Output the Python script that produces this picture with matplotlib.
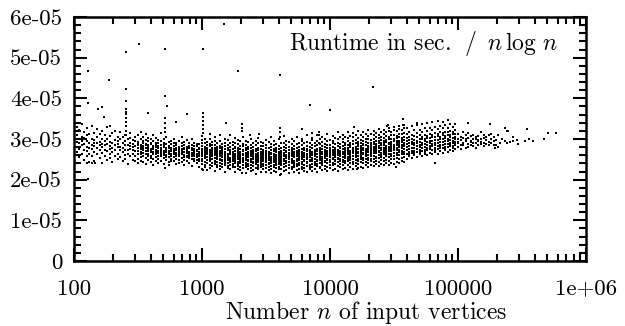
import matplotlib

matplotlib.use("Agg")
import matplotlib.pyplot as plt
from matplotlib.ticker import FixedFormatter, FixedLocator, LogLocator, MultipleLocator, NullFormatter

plt.rcParams["font.family"] = "cmr10"
plt.rcParams["mathtext.fontset"] = "cm"
plt.rcParams["axes.unicode_minus"] = False
plt.rcParams["axes.formatter.use_mathtext"] = True

# ---- data: runtime / (n log n) in units of 1e-7 s ----
# dense cloud, one column per 0.02 in log10(n)
left_log_n = [2.02, 2.04, 2.06, 2.08, 2.10, 2.12, 2.14, 2.16, 2.18, 2.20, 2.22, 2.24,
              2.26, 2.28, 2.30, 2.32, 2.34, 2.36, 2.38, 2.40, 2.42, 2.44, 2.46, 2.48]
left_y = [
    [292, 311, 268, 330, 281], [276, 300, 322, 255, 289], [305, 284, 262, 338, 295],
    [288, 317, 249, 273, 302], [270, 296, 326, 281, 258, 309], [312, 279, 290, 243, 264],
    [284, 259, 301, 333, 275], [297, 268, 282, 314, 246, 290], [278, 305, 262, 291, 325],
    [293, 253, 274, 312, 286], [266, 299, 281, 240, 319, 288], [285, 309, 257, 272, 296],
    [301, 271, 288, 329, 249], [276, 293, 262, 308, 283, 254], [289, 268, 315, 279, 243],
    [273, 298, 284, 259, 320], [295, 264, 280, 306, 251, 287], [281, 256, 299, 272, 317],
    [267, 290, 277, 305, 245], [286, 261, 296, 274, 311, 252], [272, 300, 263, 285, 239],
    [291, 276, 258, 303, 282, 314], [264, 287, 273, 249, 297, 280],
    [283, 259, 294, 270, 306, 247],
]

mid_log_n = [2.50, 2.52, 2.54, 2.56, 2.58, 2.60, 2.62, 2.64, 2.66, 2.68, 2.70, 2.72, 2.74,
             2.76, 2.78, 2.80, 2.82, 2.84, 2.86, 2.88, 2.90, 2.92, 2.94, 2.96, 2.98]
mid_y = [
    [278, 262, 293, 251, 284, 270, 309, 241, 287], [269, 286, 256, 299, 275, 247, 281, 318, 263],
    [283, 266, 291, 258, 274, 305, 244, 279, 296], [271, 288, 253, 279, 264, 297, 238, 284, 312],
    [262, 280, 294, 270, 248, 285, 258, 276, 303], [276, 259, 287, 267, 301, 244, 273, 290, 254],
    [268, 283, 251, 276, 262, 295, 237, 280, 309], [281, 264, 290, 255, 272, 302, 246, 268, 286],
    [259, 277, 266, 289, 250, 283, 271, 298, 241], [273, 257, 286, 264, 296, 246, 278, 268, 314],
    [265, 280, 253, 291, 270, 239, 284, 260, 299], [278, 261, 272, 249, 287, 267, 304, 255, 275],
    [256, 283, 266, 277, 243, 293, 262, 271, 235], [270, 252, 287, 263, 279, 247, 296, 274, 258],
    [262, 276, 245, 283, 268, 300, 255, 271, 289], [274, 259, 290, 266, 250, 279, 238, 284, 263],
    [257, 271, 281, 248, 266, 295, 261, 276, 242], [268, 283, 254, 275, 262, 289, 244, 270, 306],
    [261, 275, 249, 286, 267, 236, 279, 256, 292], [272, 255, 266, 281, 245, 270, 297, 259, 277],
    [253, 277, 263, 290, 269, 241, 283, 258, 268], [266, 250, 278, 259, 286, 273, 234, 264, 299],
    [258, 271, 245, 283, 263, 276, 252, 291, 268], [270, 256, 282, 264, 240, 274, 260, 287, 249],
    [262, 275, 251, 268, 288, 245, 279, 257, 232],
]

core_log_n = [3.00, 3.02, 3.04, 3.06, 3.08, 3.10, 3.12, 3.14, 3.16, 3.18, 3.20, 3.22,
              3.24, 3.26, 3.28, 3.30, 3.32, 3.34, 3.36, 3.38, 3.40, 3.42, 3.44, 3.46,
              3.48, 3.50, 3.52, 3.54, 3.56, 3.58, 3.60, 3.62, 3.64, 3.66, 3.68, 3.70,
              3.72, 3.74, 3.76, 3.78, 3.80, 3.82, 3.84, 3.86, 3.88, 3.90, 3.92, 3.94,
              3.96, 3.98, 4.00, 4.02, 4.04, 4.06, 4.08, 4.10, 4.12, 4.14, 4.16, 4.18,
              4.20, 4.22, 4.24, 4.26, 4.28, 4.30, 4.32, 4.34, 4.36, 4.38, 4.40, 4.42,
              4.44, 4.46, 4.48, 4.50, 4.52, 4.54, 4.56, 4.58]
core_y = [
    [227, 239, 246, 251, 257, 262, 265, 271, 275, 283, 289, 297, 308],
    [231, 236, 243, 253, 258, 260, 267, 273, 278, 280, 291, 301, 262],
    [224, 241, 248, 249, 256, 263, 269, 272, 279, 286, 293, 255, 265],
    [229, 235, 245, 252, 254, 259, 264, 268, 274, 282, 287, 299, 312],
    [233, 240, 242, 250, 257, 261, 266, 270, 277, 284, 292, 258, 274],
    [222, 238, 244, 247, 253, 260, 263, 269, 273, 279, 285, 294, 304],
    [230, 236, 243, 251, 255, 259, 264, 267, 272, 281, 290, 254, 276],
    [226, 234, 241, 248, 252, 258, 262, 266, 271, 277, 283, 296, 309],
    [232, 239, 246, 249, 256, 257, 263, 268, 275, 280, 288, 260, 270],
    [220, 235, 240, 245, 251, 255, 261, 265, 269, 276, 282, 291, 301],
    [228, 233, 242, 248, 253, 258, 259, 264, 272, 278, 286, 297, 256],
    [225, 237, 244, 247, 250, 254, 262, 266, 270, 274, 280, 289, 311],
    [231, 236, 239, 246, 252, 257, 260, 263, 268, 275, 284, 293, 255],
    [219, 230, 241, 245, 249, 253, 258, 264, 271, 277, 281, 290, 303],
    [227, 234, 238, 244, 251, 255, 259, 262, 267, 273, 279, 287, 298],
    [223, 232, 240, 247, 250, 256, 257, 265, 269, 276, 283, 295, 261],
    [229, 235, 243, 246, 252, 254, 260, 263, 270, 274, 282, 288, 306],
    [217, 231, 237, 242, 248, 253, 258, 261, 266, 272, 278, 285, 296],
    [226, 233, 239, 245, 249, 255, 256, 264, 268, 275, 281, 292, 259],
    [221, 228, 236, 244, 247, 251, 257, 260, 265, 271, 277, 286, 300],
    [224, 234, 240, 243, 250, 254, 259, 262, 267, 273, 280, 291, 253],
    [215, 229, 238, 241, 246, 252, 255, 258, 264, 270, 276, 284, 294],
    [225, 232, 235, 244, 248, 253, 257, 261, 266, 272, 279, 289, 302],
    [220, 230, 237, 242, 247, 250, 256, 259, 263, 269, 275, 283, 292],
    [227, 233, 239, 245, 249, 254, 258, 262, 268, 274, 282, 290, 255],
    [218, 228, 236, 243, 246, 251, 255, 260, 265, 271, 278, 286, 298],
    [223, 231, 238, 240, 248, 253, 257, 259, 264, 268, 277, 293, 261],
    [216, 226, 234, 241, 245, 250, 256, 262, 266, 273, 280, 287, 304],
    [222, 232, 237, 244, 249, 252, 254, 258, 263, 270, 276, 285, 295],
    [219, 229, 235, 242, 247, 251, 257, 261, 267, 272, 279, 288, 253],
    [225, 230, 239, 243, 248, 253, 255, 260, 264, 269, 275, 283, 299],
    [213, 227, 236, 240, 246, 250, 256, 259, 265, 271, 278, 291, 262],
    [221, 231, 238, 245, 249, 252, 257, 263, 266, 274, 281, 289, 307],
    [224, 233, 234, 242, 247, 254, 258, 261, 268, 270, 277, 286, 296],
    [217, 228, 237, 244, 250, 253, 256, 260, 265, 272, 280, 292, 255],
    [226, 232, 240, 243, 248, 251, 258, 262, 267, 273, 279, 287, 301],
    [220, 230, 236, 241, 246, 255, 257, 264, 269, 275, 283, 294, 260],
    [223, 234, 239, 245, 249, 252, 259, 261, 266, 271, 278, 288, 305],
    [216, 227, 235, 242, 248, 254, 256, 263, 268, 274, 281, 290, 258],
    [225, 231, 238, 244, 250, 253, 259, 262, 267, 276, 284, 295, 300],
    [221, 229, 237, 246, 249, 255, 258, 260, 265, 272, 279, 289, 263],
    [218, 233, 240, 243, 251, 254, 257, 264, 270, 275, 282, 293, 309],
    [226, 232, 236, 245, 248, 256, 260, 263, 268, 273, 280, 291, 255],
    [222, 230, 239, 247, 250, 253, 261, 265, 269, 277, 285, 297, 303],
    [227, 235, 241, 244, 252, 257, 259, 266, 271, 274, 283, 290, 262],
    [220, 233, 238, 246, 249, 255, 262, 264, 270, 276, 284, 296, 311],
    [228, 231, 242, 248, 253, 258, 260, 267, 272, 279, 287, 299, 264],
    [223, 236, 240, 245, 251, 256, 263, 265, 269, 275, 282, 292, 306],
    [225, 234, 243, 247, 254, 257, 261, 268, 273, 280, 288, 301, 266],
    [221, 232, 241, 249, 252, 259, 262, 266, 271, 277, 286, 294, 313],
    [229, 237, 244, 248, 255, 258, 264, 267, 274, 278, 285, 298, 261],
    [224, 235, 242, 250, 253, 260, 263, 269, 272, 281, 289, 296, 308],
    [227, 238, 246, 249, 256, 259, 265, 270, 275, 279, 287, 303, 262],
    [222, 233, 243, 251, 254, 261, 264, 268, 273, 282, 290, 299, 316],
    [230, 239, 245, 252, 257, 262, 266, 271, 277, 280, 288, 305, 260],
    [225, 236, 244, 248, 255, 263, 267, 269, 276, 283, 292, 301, 311],
    [228, 240, 247, 253, 258, 261, 268, 272, 278, 284, 290, 306, 265],
    [223, 237, 246, 250, 256, 264, 267, 273, 279, 285, 294, 303, 318],
    [231, 241, 248, 254, 259, 263, 269, 271, 280, 286, 291, 308, 262],
    [226, 238, 244, 252, 257, 265, 270, 274, 277, 287, 295, 304, 314],
    [233, 242, 249, 255, 260, 264, 271, 275, 281, 289, 297, 310, 267],
    [228, 239, 247, 251, 258, 266, 269, 276, 282, 288, 293, 302, 320],
    [232, 243, 250, 256, 261, 267, 272, 277, 283, 290, 298, 309, 265],
    [229, 240, 248, 254, 262, 265, 273, 278, 284, 287, 296, 306, 316],
    [235, 244, 251, 257, 263, 268, 274, 276, 285, 292, 299, 312, 270],
    [230, 242, 249, 253, 260, 269, 272, 279, 282, 291, 301, 307, 322],
    [236, 245, 252, 258, 264, 270, 275, 280, 286, 289, 297, 313, 268],
    [233, 243, 250, 259, 265, 271, 276, 281, 287, 293, 300, 309, 319],
    [238, 247, 254, 256, 266, 272, 277, 283, 288, 295, 304, 315, 271],
    [234, 244, 253, 260, 267, 270, 278, 282, 289, 294, 302, 311, 325],
    [239, 248, 255, 261, 265, 273, 279, 284, 290, 297, 306, 318, 275],
    [236, 246, 254, 262, 268, 274, 277, 285, 291, 296, 303, 313, 323],
    [241, 249, 257, 263, 269, 275, 280, 283, 292, 298, 307, 316, 272],
    [237, 247, 256, 264, 270, 276, 281, 287, 290, 299, 305, 320, 327],
    [242, 251, 258, 262, 271, 277, 282, 288, 293, 301, 309, 317, 274],
    [239, 250, 259, 265, 272, 278, 283, 286, 294, 300, 310, 322, 330],
    [244, 253, 260, 266, 273, 279, 284, 289, 295, 302, 308, 319, 276],
    [241, 252, 261, 267, 274, 280, 285, 291, 296, 304, 312, 324, 333],
    [246, 254, 262, 268, 270, 281, 286, 292, 297, 303, 313, 321, 278],
    [243, 255, 263, 269, 275, 282, 287, 290, 298, 305, 314, 326, 335],
]

upper_log_n = [4.60, 4.62, 4.64, 4.66, 4.68, 4.70, 4.72, 4.74, 4.76, 4.78,
               4.80, 4.82, 4.84, 4.86, 4.88, 4.90, 4.92, 4.94, 4.96, 4.98]
upper_y = [
    [252, 264, 273, 281, 287, 294, 302, 313, 328], [258, 268, 276, 283, 290, 297, 306, 318, 262],
    [254, 266, 271, 279, 288, 292, 300, 310, 331], [260, 270, 278, 285, 289, 298, 307, 321, 265],
    [256, 267, 275, 282, 291, 295, 304, 315, 334], [262, 269, 280, 286, 293, 299, 309, 323, 272],
    [258, 271, 277, 284, 290, 301, 305, 317, 337], [264, 273, 281, 288, 294, 300, 311, 326, 269],
    [260, 272, 279, 286, 292, 303, 308, 319, 340], [266, 275, 283, 289, 296, 302, 313, 328, 277],
    [262, 274, 282, 287, 295, 305, 310, 322, 342], [268, 277, 284, 291, 298, 304, 315, 330, 273],
    [264, 276, 283, 290, 297, 307, 312, 324, 345], [270, 279, 286, 293, 300, 306, 316, 332, 281],
    [266, 278, 285, 292, 299, 309, 314, 326, 343], [272, 281, 288, 295, 302, 308, 318, 334, 277],
    [268, 280, 287, 294, 301, 311, 316, 328, 346], [274, 283, 290, 297, 304, 310, 320, 336, 285],
    [270, 282, 289, 296, 303, 313, 318, 330, 279], [276, 285, 292, 299, 306, 312, 322, 338, 287],
]

right_log_n = [5.00, 5.02, 5.04, 5.06, 5.08, 5.10, 5.12, 5.14, 5.16, 5.18,
               5.20, 5.22, 5.24, 5.26, 5.28]
right_y = [
    [280, 293, 301, 312, 289], [286, 297, 306, 275], [291, 284, 303, 318], [278, 295, 309, 299],
    [288, 302, 281, 314], [296, 285, 307, 292], [283, 299, 311, 290], [301, 289, 279, 305],
    [294, 308, 286, 298], [287, 300, 316, 292], [303, 291, 283, 309], [297, 288, 306],
    [293, 310, 284], [300, 289, 312], [295, 305, 286],
]

# sparse tail of the largest inputs
tail_log_n = [5.29, 5.30, 5.30, 5.31, 5.316, 5.328, 5.341, 5.367, 5.367, 5.380, 5.380,
              5.393, 5.406, 5.43, 5.432, 5.458, 5.466, 5.523, 5.537, 5.557, 5.588,
              5.674, 5.706, 5.766]
tail_y = [277, 285, 298, 281, 310, 291, 299, 296, 326, 289, 320,
          320, 293, 306, 296, 298, 287, 296, 324, 299, 296,
          299, 315, 315]

# single points away from the cloud (many at n = 2^k)
outlier_n = [1480, 323, 256, 512, 1024, 128, 1924, 4096, 189, 256, 512, 256, 6930, 128,
             155, 164, 535, 376, 172, 760,
             1024, 1024, 1024, 1024, 1024, 1024,
             256, 256, 256, 256, 256, 256, 256, 256,
             512, 512, 512, 512, 1530, 2048, 2048, 2048, 4096, 4096, 4096,
             6000, 626, 192, 21500, 10000, 36900, 28000, 28600, 47600, 120000, 178000,
             15400, 8192, 8192, 8192, 2370, 2810, 7200, 37400,
             65536, 126, 137, 146, 128, 512, 1024, 2048, 4096, 16384, 32768]
outlier_y = [582, 533, 515, 521, 521, 468, 467, 458, 444, 423, 405, 394, 383, 388,
             374, 379, 381, 364, 355, 361,
             365, 355, 345, 335, 325, 315,
             374, 367, 361, 351, 343, 332, 320, 310,
             351, 339, 326, 318, 339, 337, 328, 320, 326, 316, 306,
             324, 343, 332, 429, 371, 348, 332, 334, 340, 339, 336,
             330, 318, 310, 289, 310, 312, 315, 334,
             240, 241, 241, 241, 201, 228, 224, 216, 211, 226, 232]

x_ticks = [100, 1000, 10000, 100000, 1000000]
x_tick_labels = ["100", "1000", "10000", "100000", "1e+06"]
y_ticks = [0, 1e-05, 2e-05, 3e-05, 4e-05, 5e-05, 6e-05]
y_tick_labels = ["0", "1e-05", "2e-05", "3e-05", "4e-05", "5e-05", "6e-05"]


def columns_to_points(col_log_n, col_y):
    xs, ys = [], []
    for ln, col in zip(col_log_n, col_y):
        for v in col:
            xs.append(10 ** ln)
            ys.append(v * 1e-7)
    return xs, ys


xs, ys = [], []
for col_log_n, col_y in [(left_log_n, left_y), (mid_log_n, mid_y), (core_log_n, core_y),
                         (upper_log_n, upper_y), (right_log_n, right_y)]:
    cx, cy = columns_to_points(col_log_n, col_y)
    xs += cx
    ys += cy
xs += [10 ** ln for ln in tail_log_n]
ys += [v * 1e-7 for v in tail_y]
xs += outlier_n
ys += [v * 1e-7 for v in outlier_y]

fig = plt.figure(figsize=(6.25, 3.26), dpi=100)
ax = fig.add_axes([0.1184, 0.1994, 0.8192, 0.7485])
ax.plot(xs, ys, ls="none", marker="s", ms=1.9, mew=0, color="black")

ax.set_xscale("log")
ax.set_xlim(100, 1e6)
ax.set_ylim(0, 6e-5)
ax.xaxis.set_major_locator(FixedLocator(x_ticks))
ax.xaxis.set_major_formatter(FixedFormatter(x_tick_labels))
ax.xaxis.set_minor_locator(LogLocator(base=10, subs=range(2, 10), numticks=20))
ax.xaxis.set_minor_formatter(NullFormatter())
ax.yaxis.set_major_locator(FixedLocator(y_ticks))
ax.yaxis.set_major_formatter(FixedFormatter(y_tick_labels))
ax.yaxis.set_minor_locator(MultipleLocator(2e-6))

for s in ax.spines.values():
    s.set_linewidth(1.8)
ax.tick_params(which="both", direction="in", top=True, right=True, width=1.5,
               labelsize=16.5)
ax.tick_params(which="major", length=9.5)
ax.tick_params(which="minor", length=5)
ax.tick_params(axis="x", pad=13)
ax.tick_params(axis="y", pad=8.5)

ax.text(0.945, 0.865, r"Runtime in sec. $\;/\;\; n\,\log\,n$", transform=ax.transAxes,
        ha="right", va="baseline", fontsize=17)
fig.text(366 / 625, 7 / 326, r"Number $n$ of input vertices", ha="center",
         va="baseline", fontsize=17)

fig.savefig("out.png", dpi=100)
